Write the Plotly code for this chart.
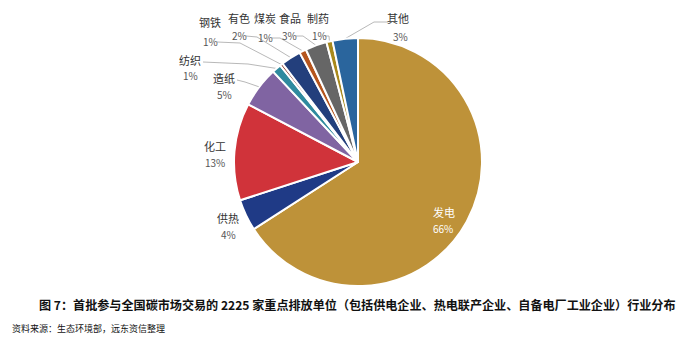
import math
import plotly.graph_objects as go

# ---- data ----
categories = ["发电", "供热", "化工", "造纸", "纺织", "钢铁", "有色", "煤炭", "食品", "制药", "其他"]
values = [65.9, 4.1, 12.7, 5.3, 1.2, 0.4, 2.6, 0.9, 2.8, 0.8, 3.3]
pct_labels = ["66%", "4%", "13%", "5%", "1%", "1%", "2%", "1%", "3%", "1%", "3%"]
colors = ["#BE9239", "#1F3A86", "#D0333A", "#8064A2", "#2F8A9E", "#8B3A2A",
          "#233F7C", "#B5551E", "#666666", "#A8891C", "#2A659D"]

title_text = "图 7：首批参与全国碳市场交易的 2225 家重点排放单位（包括供电企业、热电联产企业、自备电厂工业企业）行业分布"
source_text = "资料来源：生态环境部，远东资信整理"

# ---- layout constants (pixels) ----
W, H = 686, 351
CX, CY, R = 358, 162, 124

# label placement: name centre, pct centre, leader start, leader elbow (None = no leader)
label_pos = {
    "发电": ((444, 212), (443, 228), None, None),
    "供热": ((228, 218), (228, 234), None, None),
    "化工": ((215, 146), (215, 162), None, None),
    "造纸": ((224, 78), (224, 94), (237, 80), (245, 82)),
    "纺织": ((190, 60), (190, 75), (203, 62), (248, 64)),
    "钢铁": ((210, 22), (210, 41), (217, 42), (240, 43)),
    "有色": ((239, 18), (239, 35), (246, 36), (257, 37)),
    "煤炭": ((265, 18), (265, 37), (272, 38), (280, 38)),
    "食品": ((290, 18), (289, 35), (296, 36), (303, 36)),
    "制药": ((318, 18), (319, 35), (325, 36), (329, 36)),
    "其他": ((398, 18), (400, 36), (388, 22), (374, 22)),
}

fig = go.Figure()

fig.add_trace(go.Pie(
    labels=categories,
    values=values,
    sort=False,
    direction="clockwise",
    rotation=0,
    textinfo="none",
    hoverinfo="label+percent",
    marker=dict(colors=colors, line=dict(color="white", width=2)),
    domain=dict(x=[(CX - R) / W, (CX + R) / W], y=[1 - (CY + R) / H, 1 - (CY - R) / H]),
    showlegend=False,
))

# leader lines computed from slice mid angles
total = sum(values)
cum = 0.0
annotations = []
for cat, v, pct in zip(categories, values, pct_labels):
    mid = (cum + v / 2) / total * 2 * math.pi
    cum += v
    px = CX + R * math.sin(mid)
    py = CY - R * math.cos(mid)
    (nx, ny), (qx, qy), start, elbow = label_pos[cat]
    inside = cat == "发电"
    col = "white" if inside else "#333333"
    annotations.append(dict(x=nx, y=ny, xref="x", yref="y", text=cat, showarrow=False,
                            font=dict(size=11, color=col, family="Noto Sans CJK SC")))
    annotations.append(dict(x=qx, y=qy, xref="x", yref="y", text=pct, showarrow=False,
                            font=dict(size=10, color=("white" if inside else "#555555"),
                                      family="Noto Sans CJK SC")))
    if start is not None:
        fig.add_trace(go.Scatter(
            x=[start[0], elbow[0], px], y=[start[1], elbow[1], py],
            mode="lines", line=dict(color="#A6A6A6", width=0.8),
            hoverinfo="skip", showlegend=False))

annotations.append(dict(x=37, y=304, xref="x", yref="y", xanchor="left", yanchor="middle",
                        text="<b>" + title_text + "</b>", showarrow=False,
                        font=dict(size=12.1, color="#111111", family="Noto Sans CJK SC")))
annotations.append(dict(x=10, y=328, xref="x", yref="y", xanchor="left", yanchor="middle",
                        text=source_text, showarrow=False,
                        font=dict(size=9, color="#111111", family="Noto Sans CJK SC")))

fig.update_layout(
    width=W, height=H,
    margin=dict(l=0, r=0, t=0, b=0),
    paper_bgcolor="white", plot_bgcolor="rgba(0,0,0,0)",
    xaxis=dict(range=[0, W], visible=False, fixedrange=True, domain=[0, 1]),
    yaxis=dict(range=[H, 0], visible=False, fixedrange=True, domain=[0, 1]),
    annotations=annotations,
    showlegend=False,
)

fig.write_html("out.html")
